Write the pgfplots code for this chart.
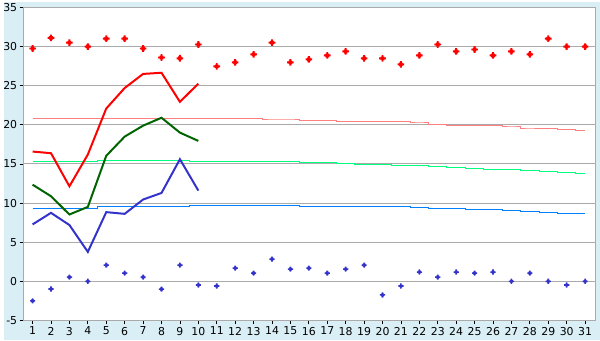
\documentclass[border=0pt]{standalone}
\usepackage{pgfplots}
\pgfplotsset{compat=1.18}
\usepackage{fontspec}
\setmainfont{DejaVu Sans}
\definecolor{bgc}{RGB}{218,238,245}
\definecolor{gridc}{RGB}{170,170,170}
\definecolor{pinkn}{RGB}{255,128,128}
\definecolor{greenn}{RGB}{0,255,128}
\definecolor{bluen}{RGB}{0,128,255}
\definecolor{dgreen}{RGB}{0,100,0}
\definecolor{mblue}{RGB}{51,51,204}
\pgfdeclareplotmark{fatplus}{%
  \pgfpathrectangle{\pgfpoint{-\pgfplotmarksize}{-0.3\pgfplotmarksize}}{\pgfpoint{2\pgfplotmarksize}{0.6\pgfplotmarksize}}%
  \pgfpathrectangle{\pgfpoint{-0.3\pgfplotmarksize}{-\pgfplotmarksize}}{\pgfpoint{0.6\pgfplotmarksize}{2\pgfplotmarksize}}%
  \pgfpathrectangle{\pgfpoint{-0.55\pgfplotmarksize}{-0.55\pgfplotmarksize}}{\pgfpoint{1.1\pgfplotmarksize}{1.1\pgfplotmarksize}}%
  \pgfusepathqfill}
\begin{document}
\begin{tikzpicture}[x=1bp,y=1bp]
\fill[bgc] (-20,-20) rectangle (580,320);
\begin{axis}[
  at={(0,0)}, anchor=south west,
  scale only axis, width=575bp, height=315bp,
  xmin=0.514, xmax=31.54, ymin=-5, ymax=35,
  axis background/.style={fill=white},
  xtick={1,...,31}, ytick={-5,0,...,35},
  tick align=outside, major tick length=4bp,
  xtick pos=bottom, ytick pos=left,
  tick style={black, line width=0.8bp},
  axis line style={gridc, line width=1bp},
  ymajorgrids, grid style={gridc, line width=1bp},
  ticklabel style={font=\fontsize{11}{13}\selectfont},
  /pgf/number format/assume math mode=true,
  xticklabel style={yshift=1bp},
  yticklabel style={xshift=1bp},
  clip=false,
]
% normals
\addplot[pinkn, line width=1bp, const plot mark mid] coordinates {
(1,20.86)(2,20.86)(3,20.86)(4,20.86)(5,20.86)(6,20.86)(7,20.86)(8,20.86)(9,20.86)(10,20.86)(11,20.86)(12,20.86)(13,20.86)
(14,20.74)(15,20.74)(16,20.61)(17,20.61)(18,20.48)(19,20.48)(20,20.48)(21,20.36)(22,20.23)(23,20.10)(24,19.97)(25,19.97)
(26,19.85)(27,19.72)(28,19.59)(29,19.47)(30,19.34)(31,19.21)};
\addplot[greenn, line width=1bp, const plot mark mid] coordinates {
(1,15.28)(2,15.28)(3,15.28)(4,15.28)(5,15.40)(6,15.40)(7,15.40)(8,15.40)(9,15.40)(10,15.28)(11,15.28)(12,15.28)(13,15.28)
(14,15.28)(15,15.28)(16,15.15)(17,15.15)(18,15.02)(19,14.90)(20,14.90)(21,14.77)(22,14.77)(23,14.64)(24,14.51)(25,14.39)
(26,14.26)(27,14.26)(28,14.13)(29,14.01)(30,13.88)(31,13.75)};
\addplot[bluen, line width=1bp, const plot mark mid] coordinates {
(1,9.31)(2,9.31)(3,9.31)(4,9.31)(5,9.56)(6,9.56)(7,9.56)(8,9.56)(9,9.56)(10,9.69)(11,9.69)(12,9.69)(13,9.69)
(14,9.69)(15,9.69)(16,9.56)(17,9.56)(18,9.56)(19,9.56)(20,9.56)(21,9.56)(22,9.43)(23,9.31)(24,9.31)(25,9.18)
(26,9.18)(27,9.05)(28,8.93)(29,8.80)(30,8.67)(31,8.67)};
% observed
\addplot[red, line width=2bp] coordinates {
(1,16.58)(2,16.37)(3,12.14)(4,16.2)(5,22.08)(6,24.7)(7,26.5)(8,26.65)(9,22.93)(10,25.26)};
\addplot[dgreen, line width=2bp] coordinates {
(1,12.35)(2,10.87)(3,8.54)(4,9.51)(5,16.04)(6,18.49)(7,19.89)(8,20.9)(9,19.0)(10,17.94)};
\addplot[mblue, line width=2bp] coordinates {
(1,7.27)(2,8.75)(3,7.19)(4,3.76)(5,8.84)(6,8.62)(7,10.45)(8,11.29)(9,15.6)(10,11.59)};
% records
\addplot[only marks, mark=fatplus, mark size=3.3bp, red] coordinates {
(1,29.75)(2,31.1)(3,30.5)(4,30.0)(5,31.0)(6,31.0)(7,29.75)(8,28.6)(9,28.5)(10,30.26)
(11,27.47)(12,27.97)(13,28.99)(14,30.5)(15,27.97)(16,28.35)(17,28.86)(18,29.37)(19,28.48)(20,28.48)
(21,27.72)(22,28.86)(23,30.26)(24,29.37)(25,29.62)(26,28.86)(27,29.37)(28,28.99)(29,31.0)(30,30.0)(31,30.0)};
\addplot[only marks, mark=fatplus, mark size=2.6bp, mblue] coordinates {
(1,-2.5)(2,-0.98)(3,0.54)(4,0)(5,2.07)(6,1.05)(7,0.54)(8,-1.0)(9,2.07)(10,-0.47)
(11,-0.6)(12,1.69)(13,1.05)(14,2.83)(15,1.56)(16,1.69)(17,1.05)(18,1.56)(19,2.07)(20,-1.74)
(21,-0.6)(22,1.18)(23,0.54)(24,1.18)(25,1.05)(26,1.18)(27,0)(28,1.05)(29,0)(30,-0.47)(31,0)};
\end{axis}
\end{tikzpicture}
\end{document}
